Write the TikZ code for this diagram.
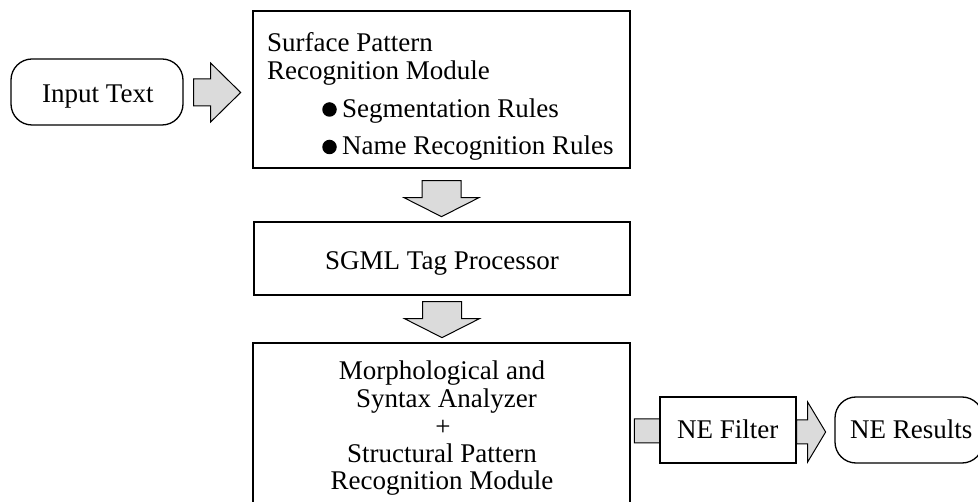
\documentclass[tikz,border=0pt]{standalone}
\usepackage{fontspec}
\setmainfont{Liberation Serif}
\usetikzlibrary{calc,backgrounds}

\tikzset{
  box/.style={draw, line width=1.3pt, fill=white, inner sep=0pt, rectangle},
  pill/.style={box, rounded corners=21pt},
  lbl/.style={inner sep=0pt, anchor=base west, font=\fontsize{27}{25}\selectfont},
  clbl/.style={lbl, anchor=base},
  dot/.style={circle, fill=black, inner sep=0pt, minimum size=14.5pt},
  blockarrow/.style={draw, line width=1pt, fill=black!14, line join=miter},
  % right-pointing block arrow: stem half-height, stem length, head half-height, head length
  pics/rblock/.style n args={4}{code={
    \filldraw[blockarrow] (0,-#1) -- (#2,-#1) -- (#2,-#3) -- ({#2+#4},0)
      -- (#2,#3) -- (#2,#1) -- (0,#1) -- cycle;
  }},
  % downward block arrow: stem half-width, stem length, head half-width, head length
  pics/dblock/.style n args={4}{code={
    \filldraw[blockarrow] (-#1,0) -- (#1,0) -- (#1,#2) -- (#3,#2) -- (0,{#2+#4})
      -- (-#3,#2) -- (-#1,#2) -- (-#1,0) -- cycle;
  }},
}

\begin{document}
\begin{tikzpicture}[x=1pt, y=-1pt]
  \useasboundingbox (0,0) rectangle (978,502);
  \clip (0,0) rectangle (978,502);

  % boxes
  \node[pill, minimum width=172pt, minimum height=66pt] (inp) at (97,92) {};
  \node[box, minimum width=377pt, minimum height=157pt] (surf) at (441.5,89.5) {};
  \node[box, minimum width=376pt, minimum height=73pt] (sgml) at (442,258.5) {};
  \node[box, minimum width=377pt, minimum height=182pt] (morph) at (441.5,434) {};
  \node[box, minimum width=136pt, minimum height=66pt] (filt) at (728,430) {};
  \node[pill, minimum width=148pt, minimum height=66pt] (res) at (909,430) {};

  % labels
  \node[lbl] (inptxt) at (42,103) {Input Text};
  \node[lbl] (surf1) at (267,52) {Surface Pattern};
  \node[lbl] (surf2) at (267,80) {Recognition Module};
  \node[dot] (b1) at (329.5,109.5) {};
  \node[lbl] (seg) at (342,117.5) {Segmentation Rules};
  \node[dot] (b2) at (329.5,147) {};
  \node[lbl] (name) at (342,155) {Name Recognition Rules};
  \node[clbl] (sgmltxt) at (442,270) {SGML Tag Processor};
  \node[clbl] (m1) at (442,380) {Morphological and};
  \node[clbl] (m2) at (442,407.5) {\hspace*{9pt}Syntax Analyzer};
  \node[clbl] (m3) at (443,436) {+};
  \node[clbl] (m4) at (442,462.5) {Structural Pattern};
  \node[clbl] (m5) at (442,490) {Recognition Module};
  \node[lbl] (filttxt) at (677,439) {NE Filter};
  \node[lbl] (restxt) at (850,439) {NE Results};

  % block arrows between the stages
  \pic at ($(inp.east)+(10,0.5)$) {rblock={13.5}{17}{29.5}{30}};
  \pic at ($(surf.south)+(0,12)$) {dblock={19.5}{17}{37.5}{19}};
  \pic at ($(sgml.south)+(0,6)$) {dblock={19.5}{17}{37.5}{19}};
  \pic at ($(filt.east)+(0,2)$) {rblock={12}{11}{30}{18}};
  \begin{scope}[on background layer]
    \pic at ($(filt.west)+(-25,1)$) {rblock={12}{40}{26}{20}};
  \end{scope}
\end{tikzpicture}
\end{document}
